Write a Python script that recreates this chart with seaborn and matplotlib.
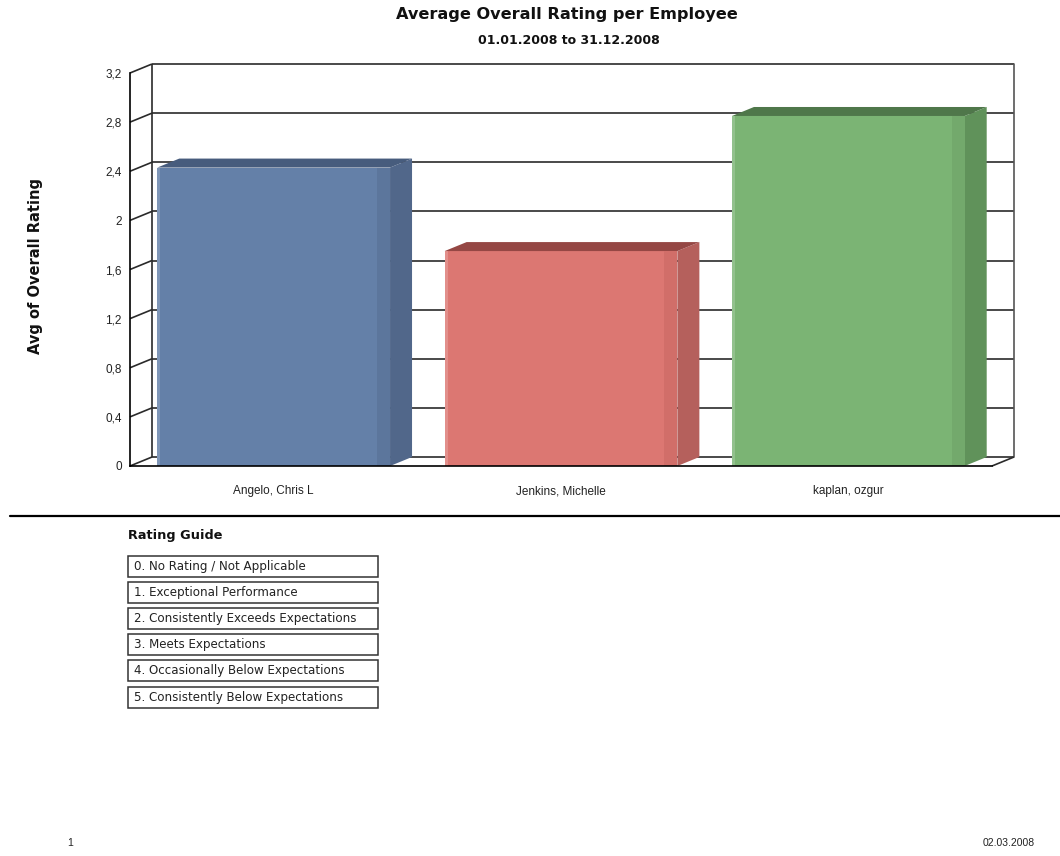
import numpy as np
import pandas as pd
import matplotlib
matplotlib.use("Agg")
import matplotlib.pyplot as plt
import seaborn as sns
from matplotlib.patches import Polygon, Rectangle
from matplotlib.lines import Line2D

# ---------------- data ----------------
employees = ["Angelo, Chris L", "Jenkins, Michelle", "kaplan, ozgur"]
avg_rating = [2.43, 1.75, 2.85]
front_colors = ["#6480A8", "#DC7772", "#7BB474"]
shade_colors = ["#5C769C", "#D16E69", "#73A96C"]
side_colors = ["#51678A", "#B5605C", "#60925A"]
top_colors = ["#475C7D", "#954744", "#4F774A"]
y_ticks = [0, 0.4, 0.8, 1.2, 1.6, 2.0, 2.4, 2.8, 3.2]
y_tick_labels = ["0", "0,4", "0,8", "1,2", "1,6", "2", "2,4", "2,8", "3,2"]
rating_guide = [
    "0. No Rating / Not Applicable",
    "1. Exceptional Performance",
    "2. Consistently Exceeds Expectations",
    "3. Meets Expectations",
    "4. Occasionally Below Expectations",
    "5. Consistently Below Expectations",
]
title = "Average Overall Rating per Employee"
subtitle = "01.01.2008 to 31.12.2008"
y_label = "Avg of Overall Rating"
guide_title = "Rating Guide"
page_number = "1"
print_date = "02.03.2008"

# ---------------- layout ----------------
W, H = 1060, 856
sns.set_theme(style="white")
plt.rcParams['font.family'] = ['Liberation Sans', 'DejaVu Sans']

fig = plt.figure(figsize=(W / 100, H / 100), dpi=100)
fig.patch.set_facecolor("white")


def fx(px):
    return px / W


def fy(py):
    return 1 - py / H


ax_left, ax_right, ax_top, ax_bottom = 130, 992, 73, 466
ax = fig.add_axes([fx(ax_left), fy(ax_bottom), (ax_right - ax_left) / W, (ax_bottom - ax_top) / H])
ax.patch.set_alpha(0)

df = pd.DataFrame({"Employee": employees, "Rating": avg_rating})
sns.barplot(data=df, x="Employee", y="Rating", hue="Employee", palette=front_colors,
            width=0.81, saturation=1, legend=False, linewidth=0, ax=ax, zorder=3)

ax.set_xlim(-0.5, 2.5)
ax.set_ylim(0, 3.2)

# depth offsets (pixels -> data units)
depth_px_x, depth_px_y = 22, 9
px_to_x = 3.0 / (ax_right - ax_left)
dx = depth_px_x * px_to_x
dy = depth_px_y / (ax_bottom - ax_top) * 3.2

grid_kw = dict(color="#2a2a2a", lw=1.2, clip_on=False, zorder=1, solid_capstyle="butt")
for v in y_ticks:
    ax.plot([-0.5 + dx, 2.5 + dx], [v + dy, v + dy], **grid_kw)
    ax.plot([-0.5, -0.5 + dx], [v, v + dy], **grid_kw)
ax.plot([-0.5 + dx, -0.5 + dx], [dy, 3.2 + dy], **grid_kw)
ax.plot([2.5 + dx, 2.5 + dx], [dy, 3.2 + dy], color="#555555", lw=1.2, clip_on=False, zorder=1)
ax.plot([2.5, 2.5 + dx], [0, dy], **grid_kw)

# 3D faces of the bars
bars = sorted(ax.patches, key=lambda p: p.get_x())
for i, p in enumerate(bars):
    x0, w, h = p.get_x(), p.get_width(), p.get_height()
    x1 = x0 + w
    # subtle shading on the front face
    ax.add_patch(Rectangle((x1 - 13 * px_to_x, 0), 13 * px_to_x, h, facecolor=shade_colors[i],
                           edgecolor="none", zorder=3.1))
    ax.add_patch(Rectangle((x0, 0), 3 * px_to_x, h, facecolor="white", alpha=0.18,
                           edgecolor="none", zorder=3.1))
    side = Polygon([(x1, 0), (x1 + dx, dy), (x1 + dx, h + dy), (x1, h)], closed=True,
                   facecolor=side_colors[i], edgecolor="none", zorder=3, clip_on=False)
    top = Polygon([(x0, h), (x1, h), (x1 + dx, h + dy), (x0 + dx, h + dy)], closed=True,
                  facecolor=top_colors[i], edgecolor="none", zorder=3, clip_on=False)
    ax.add_patch(side)
    ax.add_patch(top)
    p.set_clip_on(False)

for s in ["top", "right"]:
    ax.spines[s].set_visible(False)
for s in ["left", "bottom"]:
    ax.spines[s].set_color("black")
    ax.spines[s].set_linewidth(1.2)
    ax.spines[s].set_zorder(4)

ax.set_yticks(y_ticks, y_tick_labels)
ax.tick_params(axis="y", length=0, pad=6, labelsize=8.5, labelcolor="#222222")
ax.tick_params(axis="x", length=0, pad=14, labelsize=8.5, labelcolor="#222222")
ax.set_xlabel("")
ax.set_ylabel("")

# titles
fig.text(fx(567), fy(14), title, ha="center", va="center", fontsize=11.6,
         fontweight="bold", family="DejaVu Sans", color="#111111")
fig.text(fx(569), fy(40), subtitle, ha="center", va="center", fontsize=9,
         fontweight="bold", family="DejaVu Sans", color="#111111")
fig.text(fx(36), fy(266), y_label, ha="center", va="center", rotation=90,
         fontsize=10.5, fontweight="bold", family="DejaVu Sans", color="#111111")

# separator line
fig.add_artist(Line2D([fx(10), fx(1060)], [fy(516), fy(516)], transform=fig.transFigure,
                      color="black", lw=1.6))

# rating guide
fig.text(fx(128), fy(535), guide_title, ha="left", va="center", fontsize=9.3,
         fontweight="bold", family="DejaVu Sans", color="#111111")
box_tops = [556, 582, 608, 634, 660, 687]
for t, label in zip(box_tops, rating_guide):
    fig.add_artist(Rectangle((fx(128), fy(t + 21)), (378 - 128) / W, 21 / H,
                             transform=fig.transFigure, facecolor="white",
                             edgecolor="#333333", lw=1.1))
    fig.text(fx(134), fy(t + 10.5), label, ha="left", va="center", fontsize=8.6,
             family="DejaVu Sans", color="#222222")

# footer
fig.text(fx(70), fy(843), page_number, ha="center", va="center", fontsize=7.5, color="#222222")
fig.text(fx(1035), fy(843), print_date, ha="right", va="center", fontsize=7.5, color="#222222")

fig.savefig("out.png", dpi=100, facecolor="white")
